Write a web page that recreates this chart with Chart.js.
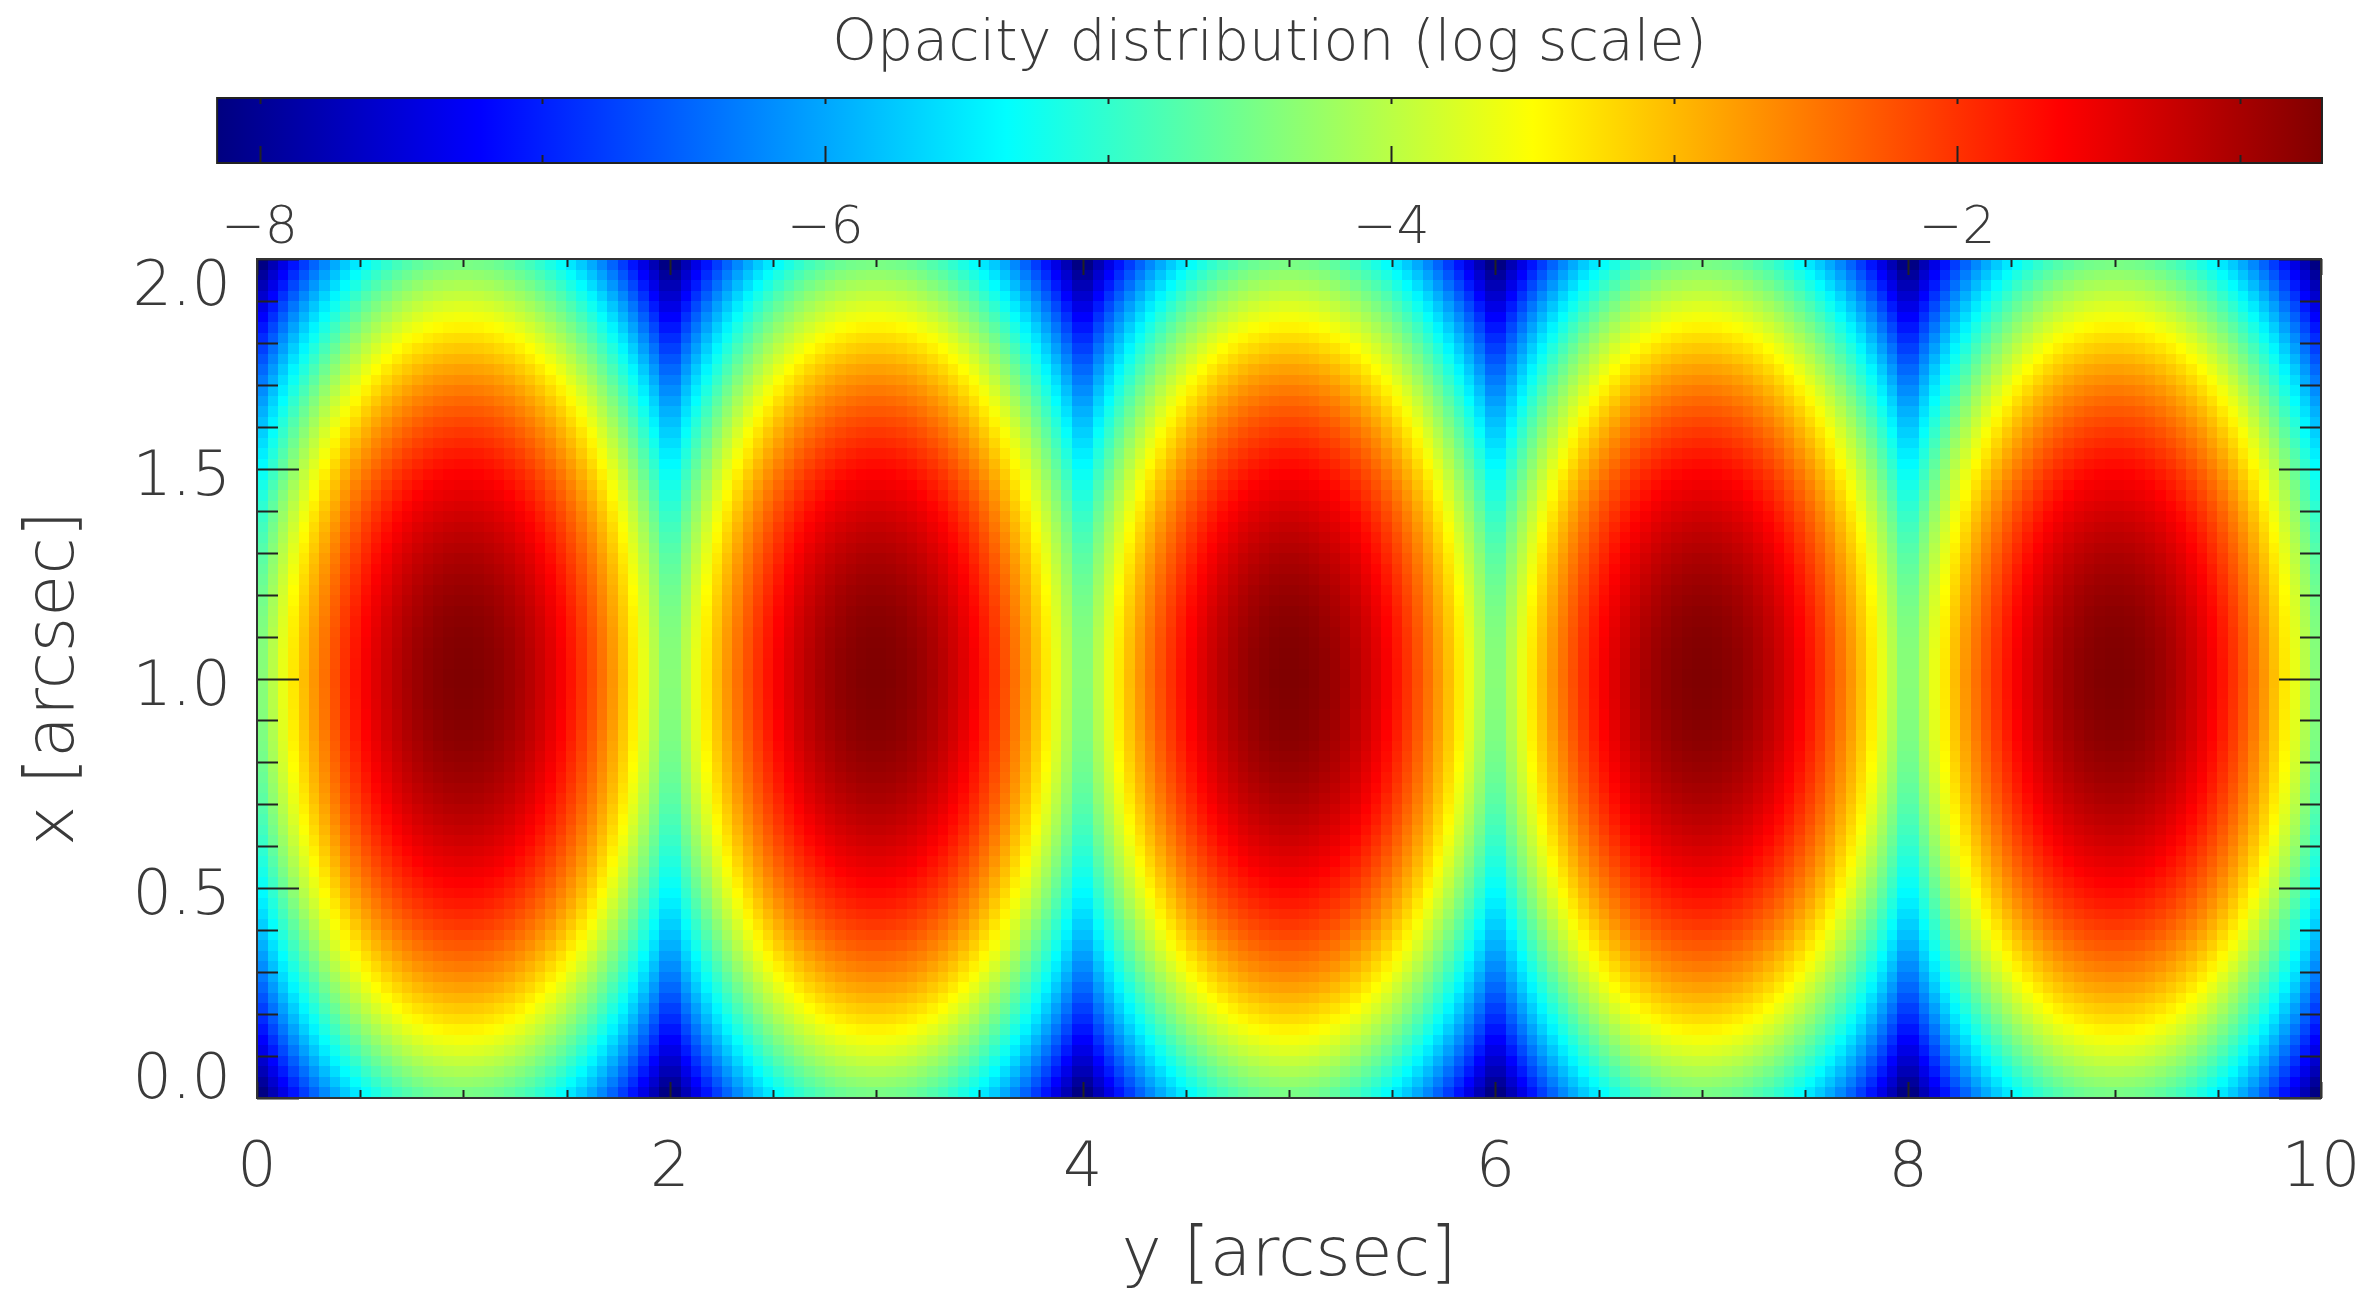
<!DOCTYPE html>
<html>
<head>
<meta charset="utf-8">
<title>Opacity distribution</title>
<script src="https://cdn.jsdelivr.net/npm/chart.js@4.4.0/dist/chart.umd.min.js"></script>
<style>
  html, body { margin: 0; padding: 0; background: #fff; }
  #wrap { width: 2372px; height: 1293px; position: relative; }
</style>
</head>
<body>
<div id="wrap"><canvas id="map"></canvas></div>
<script>
// log10 opacity, one quadrant of a blob.
// rows: distance in x from the blob centre, 0.0125 ... 0.9875 (step 0.025)
// columns: distance in y from the blob centre, 0.025 ... 0.975 (step 0.05)
const cellW = 0.05;   // along y (horizontal axis)
const cellH = 0.025;  // along x (vertical axis)
const blobCentresY = [1, 3, 5, 7, 9];
const blobCentreX = 1;
const quadrant = [
  [-0.71,-0.73,-0.77,-0.83,-0.91,-1.00,-1.12,-1.25,-1.41,-1.58,-1.77,-1.98,-2.21,-2.46,-2.73,-3.02,-3.33,-3.66,-4.00,-4.37],
  [-0.72,-0.74,-0.78,-0.83,-0.91,-1.01,-1.12,-1.26,-1.41,-1.58,-1.78,-1.99,-2.22,-2.47,-2.74,-3.03,-3.34,-3.66,-4.01,-4.38],
  [-0.73,-0.75,-0.79,-0.84,-0.92,-1.02,-1.13,-1.27,-1.42,-1.59,-1.79,-2.00,-2.23,-2.48,-2.75,-3.04,-3.35,-3.67,-4.02,-4.38],
  [-0.74,-0.76,-0.80,-0.86,-0.93,-1.03,-1.15,-1.28,-1.43,-1.61,-1.80,-2.01,-2.24,-2.49,-2.76,-3.05,-3.36,-3.69,-4.03,-4.40],
  [-0.76,-0.78,-0.82,-0.88,-0.95,-1.05,-1.17,-1.30,-1.45,-1.63,-1.82,-2.03,-2.26,-2.51,-2.78,-3.07,-3.38,-3.71,-4.05,-4.42],
  [-0.79,-0.80,-0.84,-0.90,-0.98,-1.07,-1.19,-1.32,-1.48,-1.65,-1.84,-2.06,-2.29,-2.54,-2.81,-3.10,-3.40,-3.73,-4.08,-4.44],
  [-0.81,-0.83,-0.87,-0.93,-1.01,-1.10,-1.22,-1.35,-1.51,-1.68,-1.87,-2.08,-2.32,-2.57,-2.84,-3.12,-3.43,-3.76,-4.11,-4.47],
  [-0.85,-0.87,-0.91,-0.96,-1.04,-1.14,-1.25,-1.39,-1.54,-1.71,-1.91,-2.12,-2.35,-2.60,-2.87,-3.16,-3.47,-3.79,-4.14,-4.51],
  [-0.89,-0.91,-0.94,-1.00,-1.08,-1.18,-1.29,-1.43,-1.58,-1.75,-1.95,-2.16,-2.39,-2.64,-2.91,-3.20,-3.50,-3.83,-4.18,-4.54],
  [-0.93,-0.95,-0.99,-1.05,-1.12,-1.22,-1.33,-1.47,-1.62,-1.80,-1.99,-2.20,-2.43,-2.68,-2.95,-3.24,-3.55,-3.87,-4.22,-4.59],
  [-0.98,-1.00,-1.04,-1.09,-1.17,-1.27,-1.38,-1.52,-1.67,-1.84,-2.04,-2.25,-2.48,-2.73,-3.00,-3.29,-3.60,-3.92,-4.27,-4.64],
  [-1.03,-1.05,-1.09,-1.15,-1.22,-1.32,-1.43,-1.57,-1.72,-1.90,-2.09,-2.30,-2.53,-2.78,-3.05,-3.34,-3.65,-3.98,-4.32,-4.69],
  [-1.09,-1.11,-1.15,-1.20,-1.28,-1.38,-1.49,-1.63,-1.78,-1.95,-2.15,-2.36,-2.59,-2.84,-3.11,-3.40,-3.71,-4.03,-4.38,-4.75],
  [-1.15,-1.17,-1.21,-1.27,-1.34,-1.44,-1.56,-1.69,-1.84,-2.02,-2.21,-2.42,-2.65,-2.90,-3.17,-3.46,-3.77,-4.10,-4.44,-4.81],
  [-1.22,-1.24,-1.28,-1.33,-1.41,-1.51,-1.62,-1.76,-1.91,-2.08,-2.28,-2.49,-2.72,-2.97,-3.24,-3.53,-3.84,-4.16,-4.51,-4.88],
  [-1.29,-1.31,-1.35,-1.41,-1.48,-1.58,-1.69,-1.83,-1.98,-2.16,-2.35,-2.56,-2.79,-3.04,-3.31,-3.60,-3.91,-4.24,-4.58,-4.95],
  [-1.37,-1.39,-1.43,-1.48,-1.56,-1.66,-1.77,-1.91,-2.06,-2.23,-2.43,-2.64,-2.87,-3.12,-3.39,-3.68,-3.99,-4.31,-4.66,-5.03],
  [-1.45,-1.47,-1.51,-1.56,-1.64,-1.74,-1.85,-1.99,-2.14,-2.32,-2.51,-2.72,-2.95,-3.20,-3.47,-3.76,-4.07,-4.39,-4.74,-5.11],
  [-1.54,-1.56,-1.59,-1.65,-1.73,-1.82,-1.94,-2.07,-2.23,-2.40,-2.59,-2.81,-3.04,-3.29,-3.56,-3.85,-4.15,-4.48,-4.83,-5.19],
  [-1.63,-1.65,-1.69,-1.74,-1.82,-1.92,-2.03,-2.17,-2.32,-2.49,-2.69,-2.90,-3.13,-3.38,-3.65,-3.94,-4.25,-4.57,-4.92,-5.28],
  [-1.72,-1.74,-1.78,-1.84,-1.92,-2.01,-2.13,-2.26,-2.42,-2.59,-2.78,-2.99,-3.23,-3.48,-3.74,-4.03,-4.34,-4.67,-5.02,-5.38],
  [-1.82,-1.84,-1.88,-1.94,-2.02,-2.11,-2.23,-2.36,-2.52,-2.69,-2.88,-3.10,-3.33,-3.58,-3.85,-4.13,-4.44,-4.77,-5.12,-5.48],
  [-1.93,-1.95,-1.99,-2.05,-2.12,-2.22,-2.33,-2.47,-2.62,-2.80,-2.99,-3.20,-3.43,-3.68,-3.95,-4.24,-4.55,-4.88,-5.22,-5.59],
  [-2.04,-2.06,-2.10,-2.16,-2.23,-2.33,-2.45,-2.58,-2.73,-2.91,-3.10,-3.31,-3.54,-3.79,-4.06,-4.35,-4.66,-4.99,-5.33,-5.70],
  [-2.16,-2.18,-2.21,-2.27,-2.35,-2.45,-2.56,-2.70,-2.85,-3.02,-3.22,-3.43,-3.66,-3.91,-4.18,-4.47,-4.77,-5.10,-5.45,-5.81],
  [-2.28,-2.30,-2.33,-2.39,-2.47,-2.57,-2.68,-2.82,-2.97,-3.14,-3.34,-3.55,-3.78,-4.03,-4.30,-4.59,-4.90,-5.22,-5.57,-5.93],
  [-2.40,-2.42,-2.46,-2.52,-2.59,-2.69,-2.81,-2.94,-3.10,-3.27,-3.46,-3.67,-3.90,-4.15,-4.42,-4.71,-5.02,-5.35,-5.69,-6.06],
  [-2.53,-2.55,-2.59,-2.65,-2.72,-2.82,-2.94,-3.07,-3.23,-3.40,-3.59,-3.80,-4.03,-4.28,-4.55,-4.84,-5.15,-5.48,-5.82,-6.19],
  [-2.67,-2.69,-2.72,-2.78,-2.86,-2.96,-3.07,-3.21,-3.36,-3.53,-3.73,-3.94,-4.17,-4.42,-4.69,-4.98,-5.28,-5.61,-5.96,-6.32],
  [-2.81,-2.83,-2.86,-2.92,-3.00,-3.10,-3.21,-3.35,-3.50,-3.67,-3.87,-4.08,-4.31,-4.56,-4.83,-5.12,-5.42,-5.75,-6.10,-6.46],
  [-2.95,-2.97,-3.01,-3.07,-3.14,-3.24,-3.36,-3.49,-3.64,-3.82,-4.01,-4.22,-4.45,-4.70,-4.97,-5.26,-5.57,-5.90,-6.24,-6.61],
  [-3.10,-3.12,-3.16,-3.22,-3.29,-3.39,-3.50,-3.64,-3.79,-3.97,-4.16,-4.37,-4.60,-4.85,-5.12,-5.41,-5.72,-6.05,-6.39,-6.76],
  [-3.25,-3.27,-3.31,-3.37,-3.45,-3.54,-3.66,-3.79,-3.95,-4.12,-4.31,-4.52,-4.76,-5.01,-5.28,-5.56,-5.87,-6.20,-6.55,-6.91],
  [-3.41,-3.43,-3.47,-3.53,-3.61,-3.70,-3.82,-3.95,-4.11,-4.28,-4.47,-4.68,-4.91,-5.16,-5.43,-5.72,-6.03,-6.36,-6.70,-7.07],
  [-3.58,-3.60,-3.63,-3.69,-3.77,-3.87,-3.98,-4.12,-4.27,-4.44,-4.64,-4.85,-5.08,-5.33,-5.60,-5.89,-6.19,-6.52,-6.87,-7.23],
  [-3.74,-3.76,-3.80,-3.86,-3.94,-4.03,-4.15,-4.28,-4.44,-4.61,-4.80,-5.02,-5.25,-5.50,-5.77,-6.05,-6.36,-6.69,-7.04,-7.40],
  [-3.92,-3.94,-3.98,-4.03,-4.11,-4.21,-4.32,-4.46,-4.61,-4.78,-4.98,-5.19,-5.42,-5.67,-5.94,-6.23,-6.54,-6.86,-7.21,-7.58],
  [-4.10,-4.12,-4.15,-4.21,-4.29,-4.39,-4.50,-4.64,-4.79,-4.96,-5.16,-5.37,-5.60,-5.85,-6.12,-6.41,-6.71,-7.04,-7.39,-7.75],
  [-4.28,-4.30,-4.34,-4.39,-4.47,-4.57,-4.68,-4.82,-4.97,-5.15,-5.34,-5.55,-5.78,-6.03,-6.30,-6.59,-6.90,-7.22,-7.57,-7.94],
  [-4.47,-4.49,-4.52,-4.58,-4.66,-4.76,-4.87,-5.01,-5.16,-5.33,-5.53,-5.74,-5.97,-6.22,-6.49,-6.78,-7.08,-7.41,-7.76,-8.12],
];

// colour table limits and axis labels
const colourLow = -8.15;
const colourHigh = -0.71;
const colourbarTicks = [-8, -6, -4, -2];
const horizTicks = [0, 2, 4, 6, 8, 10];
const vertTicks = [0, 0.5, 1, 1.5, 2];
const vertLabels = ['0.0', '0.5', '1.0', '1.5', '2.0'];

const FONT = '"DejaVu Sans", sans-serif';
const INK = '#3a3a3a';

// every quadrant cell mirrored into the four quarters of each blob
const cells = [];
blobCentresY.forEach(cy => {
  quadrant.forEach((row, j) => {
    row.forEach((v, i) => {
      for (const sy of [-1, 1]) {
        for (const sx of [-1, 1]) {
          cells.push({
            x: cy + sy * (i + 0.5) * cellW,
            y: blobCentreX + sx * (j + 0.5) * cellH,
            v
          });
        }
      }
    });
  });
});

// IDL/matlab style "jet"
function jet(v) {
  const t = Math.min(1, Math.max(0, (v - colourLow) / (colourHigh - colourLow)));
  const c = k => Math.round(255 * Math.min(1, Math.max(0, 1.5 - Math.abs(4 * t - k))));
  return `rgb(${c(3)},${c(2)},${c(1)})`;
}

const minus = v => (v < 0 ? '\u2212' + Math.abs(v) : String(v));

const heatmap = {
  id: 'heatmap',
  beforeDatasetsDraw(chart) {
    const { ctx, chartArea: a } = chart;
    const xs = chart.scales.x, ys = chart.scales.y;
    const hw = cellW / 2, hh = cellH / 2;
    ctx.save();
    ctx.beginPath();
    ctx.rect(a.left, a.top, a.right - a.left, a.bottom - a.top);
    ctx.clip();
    for (const c of chart.data.datasets[0].data) {
      const l = Math.floor(xs.getPixelForValue(c.x - hw));
      const r = Math.ceil(xs.getPixelForValue(c.x + hw));
      const t = Math.floor(ys.getPixelForValue(c.y + hh));
      const b = Math.ceil(ys.getPixelForValue(c.y - hh));
      ctx.fillStyle = jet(c.v);
      ctx.fillRect(l, t, r - l, b - t);
    }
    ctx.restore();
  },
  afterDatasetsDraw(chart) {
    const { ctx, chartArea: a } = chart;
    const xs = chart.scales.x, ys = chart.scales.y;
    ctx.save();
    ctx.strokeStyle = '#222';
    ctx.lineWidth = 2;
    ctx.beginPath();
    // vertical axis: minor every 0.1, major every 0.5
    for (let k = 0; k <= 20; k++) {
      const py = Math.round(ys.getPixelForValue(k / 10)) + 0.5;
      const len = k % 5 === 0 ? 42 : 21;
      ctx.moveTo(a.left, py); ctx.lineTo(a.left + len, py);
      ctx.moveTo(a.right, py); ctx.lineTo(a.right - len, py);
    }
    // horizontal axis: minor every 0.5, major every 2
    for (let k = 0; k <= 20; k++) {
      const px = Math.round(xs.getPixelForValue(k / 2)) + 0.5;
      const len = k % 4 === 0 ? 16 : 8;
      ctx.moveTo(px, a.bottom); ctx.lineTo(px, a.bottom - len);
      ctx.moveTo(px, a.top); ctx.lineTo(px, a.top + len);
    }
    ctx.stroke();
    ctx.strokeStyle = '#333';
    ctx.strokeRect(a.left, a.top, a.right - a.left, a.bottom - a.top);

    // vertical tick labels kept inside the frame at both ends
    ctx.fillStyle = INK;
    ctx.font = `200 62px ${FONT}`;
    ctx.textAlign = 'right';
    ctx.textBaseline = 'alphabetic';
    vertTicks.forEach((v, i) => {
      const py = ys.getPixelForValue(v);
      const base = Math.min(a.bottom, Math.max(a.top + 46, py + 26));
      ctx.fillText(vertLabels[i], 231, base);
    });
    ctx.restore();
  },
  afterDraw(chart) {
    const { ctx } = chart;
    const cb = chart.scales.cb;
    const left = cb.getPixelForValue(colourLow);
    const right = cb.getPixelForValue(colourHigh);
    const top = 98, bottom = 163;
    ctx.save();
    const grad = ctx.createLinearGradient(left, 0, right, 0);
    [[0, '#000080'], [0.125, '#0000ff'], [0.375, '#00ffff'],
     [0.625, '#ffff00'], [0.875, '#ff0000'], [1, '#800000']]
      .forEach(([s, c]) => grad.addColorStop(s, c));
    ctx.fillStyle = grad;
    ctx.fillRect(left, top, right - left, bottom - top);
    ctx.strokeStyle = '#222';
    ctx.lineWidth = 2;
    ctx.strokeRect(left, top, right - left, bottom - top);
    ctx.beginPath();
    for (let v = -8; v <= -1; v++) {
      const px = Math.round(cb.getPixelForValue(v)) + 0.5;
      const len = v % 2 === 0 ? 17 : 8;
      ctx.moveTo(px, bottom); ctx.lineTo(px, bottom - len);
      ctx.moveTo(px, top); ctx.lineTo(px, top + 6);
    }
    ctx.stroke();

    ctx.fillStyle = INK;
    ctx.font = `200 57px ${FONT}`;
    ctx.textAlign = 'center';
    ctx.textBaseline = 'middle';
    ctx.fillText('Opacity distribution (log scale)', (left + right) / 2, 45);
    ctx.restore();
  }
};

const tickFont = { family: FONT, size: 62, weight: 200 };
const titleFont = { family: FONT, size: 68, weight: 200, lineHeight: 1.05 };
// keep the end labels from squeezing the plot sideways
const noSidePadding = s => { s.paddingLeft = 0; s.paddingRight = 0; };

new Chart(document.getElementById('map'), {
  type: 'scatter',
  data: { datasets: [{ data: cells, pointRadius: 0, pointHoverRadius: 0 }] },
  options: {
    responsive: true,
    maintainAspectRatio: false,
    animation: false,
    events: [],
    layout: { padding: { top: 90, right: 51, left: 0, bottom: 0 } },
    plugins: {
      legend: { display: false },
      tooltip: { enabled: false },
      title: { display: false }
    },
    scales: {
      x: {
        type: 'linear', position: 'bottom', min: 0, max: 10,
        grid: { display: false, drawTicks: false },
        border: { display: false },
        afterBuildTicks: s => { s.ticks = horizTicks.map(value => ({ value })); },
        ticks: { font: tickFont, color: INK, padding: 35, maxRotation: 0, callback: v => String(v) },
        title: { display: true, text: 'y [arcsec]', font: titleFont, color: INK, padding: { top: 0, bottom: 0 } },
        afterFit: s => { s.height = 195; noSidePadding(s); }
      },
      y: {
        type: 'linear', position: 'left', min: 0, max: 2,
        grid: { display: false, drawTicks: false },
        border: { display: false },
        ticks: { display: false },
        title: { display: true, text: 'x [arcsec]', font: titleFont, color: INK, padding: { top: 20, bottom: 0 } },
        afterFit: s => { s.width = 257; }
      },
      cb: {
        type: 'linear', axis: 'x', position: 'top', min: -8.009, max: -0.7135,
        grid: { display: false, drawTicks: false },
        border: { display: false },
        afterBuildTicks: s => { s.ticks = colourbarTicks.map(value => ({ value })); },
        ticks: { font: { family: FONT, size: 52, weight: 200 }, color: INK, padding: -2, maxRotation: 0, callback: minus },
        afterFit: s => { s.height = 169; noSidePadding(s); }
      }
    }
  },
  plugins: [heatmap]
});
</script>
</body>
</html>
